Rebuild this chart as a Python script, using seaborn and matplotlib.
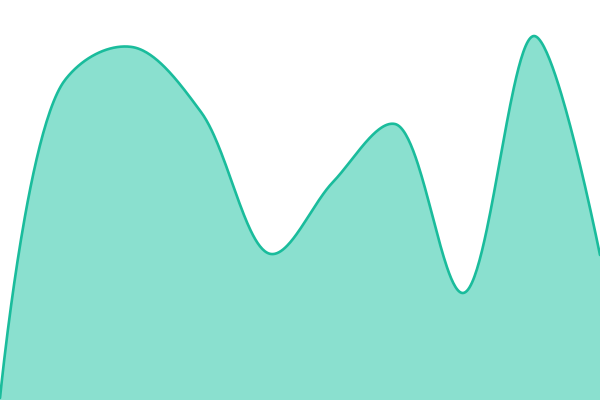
import numpy as np
import pandas as pd
import matplotlib
matplotlib.use("Agg")
import matplotlib.pyplot as plt
import seaborn as sns

# values (x along the axis, height above bottom, 600x400 plot)
x_vals = [0, 65, 132, 201, 271, 333, 395, 463, 534, 600]
values = [2, 320, 353, 288, 146, 218, 276, 107, 364, 145]

line_color = "#1abc9c"
fill_color = "#8ae0cf"


def catmull_rom(xs, ys, alpha=0.5, n=60):
    # centripetal catmull-rom (same construction as d3.curveCatmullRom)
    pts = list(zip(xs, ys))
    out_x, out_y = [pts[0][0]], [pts[0][1]]
    for i in range(len(pts) - 1):
        p0 = pts[i - 1] if i > 0 else pts[i]
        p1, p2 = pts[i], pts[i + 1]
        p3 = pts[i + 2] if i + 2 < len(pts) else pts[i + 1]
        d = lambda a, b: np.hypot(a[0] - b[0], a[1] - b[1])
        l01, l12, l23 = d(p0, p1), d(p1, p2), d(p2, p3)
        l01a, l12a, l23a = l01 ** alpha, l12 ** alpha, l23 ** alpha
        l01_2a, l12_2a, l23_2a = l01 ** (2 * alpha), l12 ** (2 * alpha), l23 ** (2 * alpha)
        c1 = np.array(p1, float)
        if l01a > 1e-12:
            a = 2 * l01_2a + 3 * l01a * l12a + l12_2a
            m = 3 * l01a * (l01a + l12a)
            c1 = (np.array(p1) * a - np.array(p0) * l12_2a + np.array(p2) * l01_2a) / m
        c2 = np.array(p2, float)
        if l23a > 1e-12:
            b = 2 * l23_2a + 3 * l23a * l12a + l12_2a
            m = 3 * l23a * (l23a + l12a)
            c2 = (np.array(p2) * b + np.array(p1) * l23_2a - np.array(p3) * l12_2a) / m
        t = np.linspace(0, 1, n)[1:, None]
        P1, P2 = np.array(p1, float), np.array(p2, float)
        seg = ((1 - t) ** 3) * P1 + 3 * ((1 - t) ** 2) * t * c1 + 3 * (1 - t) * t ** 2 * c2 + t ** 3 * P2
        out_x.extend(seg[:, 0])
        out_y.extend(seg[:, 1])
    return np.array(out_x), np.array(out_y)


cx, cy = catmull_rom(x_vals, values)
curve = pd.DataFrame({"x": cx, "y": cy})

sns.set_style("white")
fig = plt.figure(figsize=(6, 4), dpi=100)
ax = fig.add_axes([0, 0, 1, 1])
ax.fill_between(curve["x"], 0, curve["y"], color=fill_color, linewidth=0)
sns.lineplot(data=curve, x="x", y="y", sort=False, color=line_color,
             linewidth=1.9, ax=ax)
ax.set_xlim(0, 600)
ax.set_ylim(0, 400)
ax.axis("off")
fig.savefig("out.png", dpi=100)
